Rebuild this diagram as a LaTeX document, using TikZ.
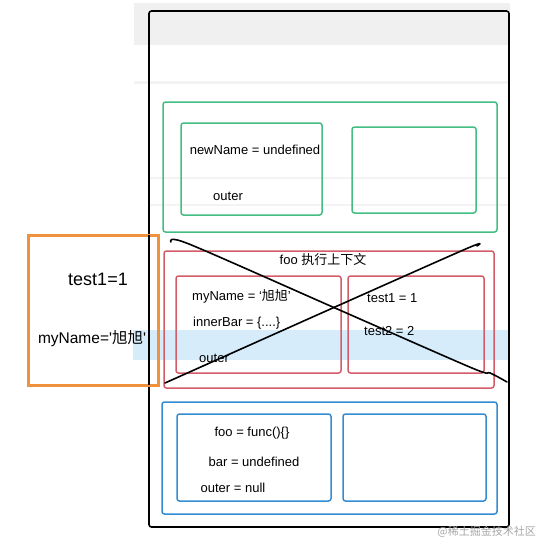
\documentclass[tikz,border=0pt]{standalone}
\usepackage{fontspec}
\newfontfamily\lsans{Liberation Sans}
\newfontfamily\cjk{Noto Sans CJK SC}
\definecolor{gbox}{RGB}{66,190,130}
\definecolor{rbox}{RGB}{212,92,104}
\definecolor{bbox}{RGB}{52,140,208}
\definecolor{obox}{RGB}{240,145,62}
\definecolor{band}{RGB}{240,240,240}
\definecolor{bband}{RGB}{214,236,251}
\begin{document}
\begin{tikzpicture}[x=1pt,y=-1pt,
  frame/.style={line width=1.5pt,rounded corners=2.5pt},
  txt/.style={inner sep=0pt,font=\lsans\fontsize{13}{15}\selectfont},
  cross/.style={line width=1.6pt,line cap=round,line join=round}]
\useasboundingbox (0,0) rectangle (543,543);
% background bands
\fill[band] (134,3) rectangle (510,45);
\fill[band!80] (134,81) rectangle (510,84);
\fill[band!80] (150,177) rectangle (508,179);
\fill[band!80] (150,204) rectangle (508,206);
\fill[bband] (133,330) rectangle (508,360);
% outer frame
\draw[frame,black,line width=1.6pt] (149,11) rectangle (509,527);
% green context
\draw[frame,gbox] (163,102) rectangle (497,232);
\draw[frame,gbox] (181,123) rectangle (322,215);
\draw[frame,gbox] (352,127) rectangle (476,213);
\node[txt] (newname) at (255,150) {newName = undefined};
\node[txt,anchor=west] (gouter) at (213,196) {outer};
% red context
\draw[frame,rbox] (164,251) rectangle (494,388);
\draw[frame,rbox] (176,276) rectangle (341,373);
\draw[frame,rbox] (348,276) rectangle (484,373);
\node[txt] (title) at (323,260) {foo {\cjk 执行上下文}};
\node[txt,anchor=west] (myname) at (192,296) {myName = ‘{\cjk 旭旭}’};
\node[txt,anchor=west] (innerbar) at (193,323) {innerBar = \{....\}};
\node[txt,anchor=west] (router) at (199,358) {outer};
\node[txt,anchor=west] (t1) at (367,298) {test1 = 1};
\node[txt,anchor=west] (t2) at (364,331) {test2 = 2};
% blue context
\draw[frame,bbox] (162,402) rectangle (497,514);
\draw[frame,bbox] (177,414) rectangle (331,501);
\draw[frame,bbox] (343,414) rectangle (486,501);
\node[txt] (foo) at (252,433) {foo = func()\{\}};
\node[txt] (bar) at (254,462) {bar = undefined};
\node[txt] (bouter) at (233,488) {outer = null};
% orange box
\draw[obox,line width=3pt] (28,235) rectangle (158,385);
\draw[black,line width=1.6pt] (149,235) -- (149,385);
\node[txt,font=\lsans\fontsize{18}{20}\selectfont] (ot1) at (98,279) {test1=1};
\node[txt,font=\lsans\fontsize{15.5}{17}\selectfont] (omy) at (92,339) {myName='{\cjk 旭旭}'};
% cross
\draw[cross] plot[smooth,tension=0.5] coordinates {(171,242) (189,244) (335,308) (472,368) (490,373) (507,382)};
\draw[cross] plot[smooth,tension=0.5] coordinates {(165,383) (335,307) (468,248) (477,246)};
% watermark
\node[txt,anchor=east,text=black!35,font=\cjk\fontsize{11}{12}\selectfont] (wm) at (536,532) {@稀土掘金技术社区};
\end{tikzpicture}
\end{document}
